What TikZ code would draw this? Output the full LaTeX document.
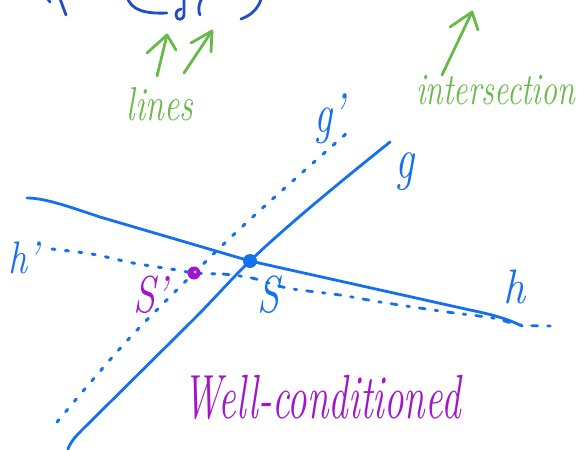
\documentclass[tikz,border=0pt]{standalone}
\usetikzlibrary{calc}
\definecolor{penblue}{RGB}{20,112,238}
\definecolor{inkblue}{RGB}{32,78,192}
\definecolor{pengreen}{RGB}{104,186,72}
\definecolor{penpurple}{RGB}{160,22,200}
\newcommand{\hand}[3]{\scalebox{1}[#2]{\fontsize{#1}{#1}\selectfont\itshape #3}}
\tikzset{
  pen/.style={line width=2.8pt,line cap=round,line join=round},
  solidline/.style={pen,penblue},
  dotline/.style={pen,penblue,line width=3pt,dash pattern=on 3pt off 10.5pt},
  dashline/.style={pen,penblue,line width=2.8pt,dash pattern=on 6pt off 10pt on 2.5pt off 10pt},
  hint/.style={pen,pengreen},
  topink/.style={pen,inkblue},
  label/.style={inner sep=0pt},
}
\begin{document}
\begin{tikzpicture}[x=1pt,y=-1pt]
\useasboundingbox (0,0) rectangle (577,449);
\clip (0,0) rectangle (577,449);

% ink strokes running in from above
\draw[topink] (47,-2) -- (50,2);
\draw[topink] (59,-4) -- (66,15);
\draw[topink] (127,-4) .. controls (130,10) and (145,14) .. (167,13);
\draw[topink] (184,-4) -- (184,14) .. controls (184,21) and (176,21) .. (176,15) .. controls (176,11) and (179,9) .. (181,9);
\draw[topink] (203,-4) .. controls (198,5) and (198,11) .. (200,15);
\draw[topink] (262,-4) .. controls (259,8) and (252,15) .. (241,19);

% green hints
\draw[hint] (157,76) -- (167,35);
\draw[hint] (147,53) -- (167,35) -- (176,50);
\draw[hint] (184,73) -- (212,31);
\draw[hint] (191,43) -- (212,31) -- (211,52);
\draw[hint] (442,75) -- (472,12);
\draw[hint] (450,27) -- (472,12) -- (478,30);
\node[label,pengreen] (lines) at (160,104) {\hand{34}{1.4}{lines}};
\node[label,pengreen,anchor=west] (inter) at (416,90) {\hand{32}{1.4}{intersection}};

% intersection points
\coordinate (S) at (250,261);
\coordinate (Sp) at (194,273);

% line g and its perturbation g'
\draw[solidline] (68,449) .. controls (71,441) and (76,436) .. (84,428)
  -- (193,320) .. controls (215,298) and (235,275) .. (S)
  .. controls (280,232) and (330,190) .. (390,142);
\draw[dotline] plot[smooth,tension=0.6] coordinates {(57,422) (125,343) (Sp) (257,213) (347,133)};

% line h and its perturbation h'
\draw[solidline] (27,198) .. controls (45,198) and (70,207) .. (100,217)
  -- (S) -- (470,310) .. controls (495,315) and (510,320) .. (522,326);
\draw[dotline] plot[smooth,tension=0.5] coordinates {(52,249) (92,254) (133,263) (177,270) (Sp) (223,274)};
\draw[dashline] plot[smooth,tension=0.5] coordinates {(223,274) (252,278) (287,288) (340,295) (380,302) (447,312) (493,318) (520,325) (555,326)};

% points
\fill[penblue] (S) circle (7pt);
\fill[penpurple] (Sp) circle (6.5pt);
\fill[white!70!penpurple] ($(Sp)+(1,-1)$) circle (1.5pt);

% labels
\node[label,penblue] (lh') at (24,258) {\hand{38}{1.2}{h'}};
\node[label,penblue] (lg') at (329,119) {\hand{40}{1.4}{g'}};
\node[label,penblue] (lg) at (405,172) {\hand{42}{1.4}{g}};
\node[label,penblue] (lh) at (514,287) {\hand{44}{1.1}{h}};
\node[label,penblue] (lS) at (268,295) {\hand{40}{1.3}{S}};
\node[label,penpurple] (lSp) at (150,295) {\hand{40}{1.3}{S'}};
\node[label,penpurple] (wc) at (322,397) {\hand{39}{1.6}{Well-conditioned}};
\end{tikzpicture}
\end{document}
